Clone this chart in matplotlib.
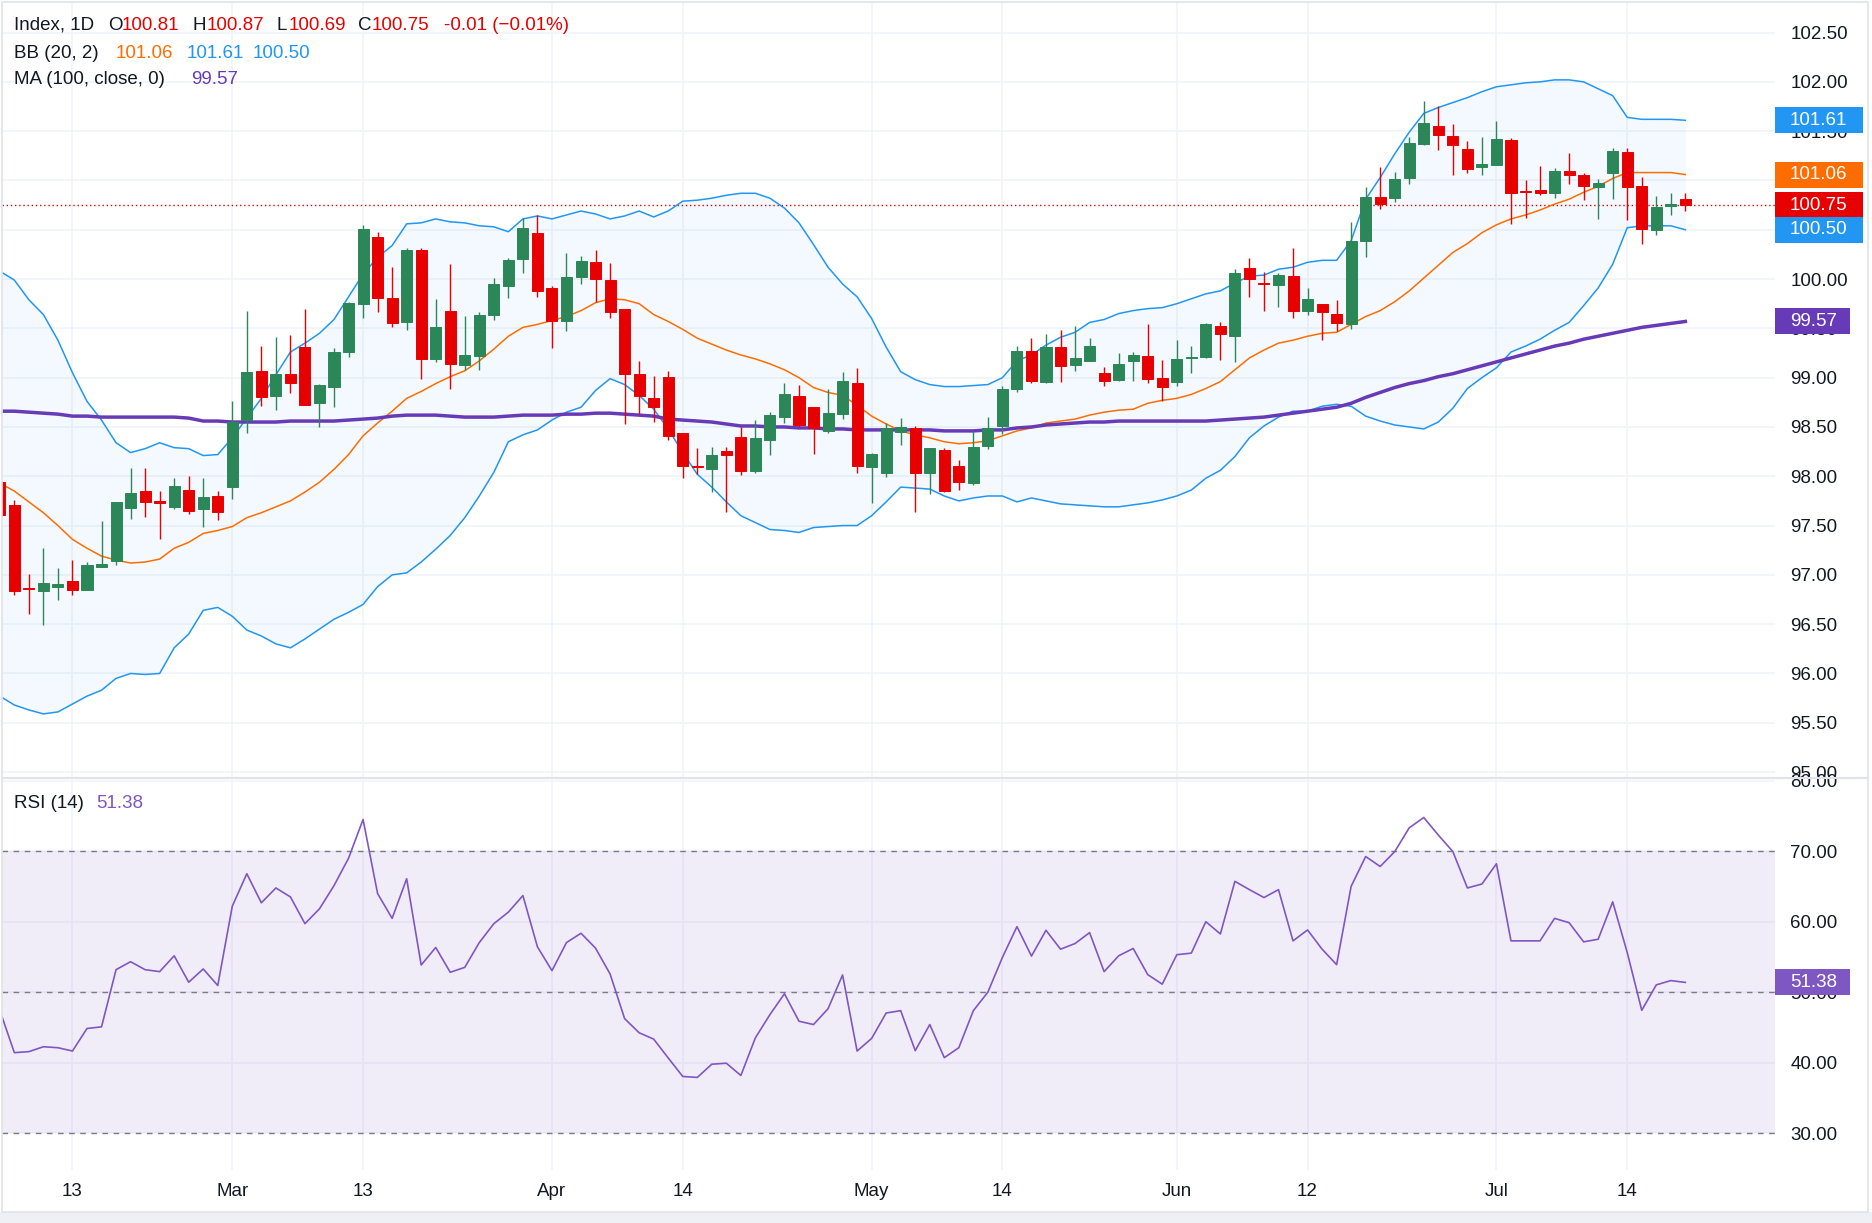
import matplotlib
matplotlib.use("Agg")
import matplotlib.pyplot as plt
from matplotlib.patches import Rectangle
from matplotlib.lines import Line2D

# daily candles, one entry per bar
opens = [97.94, 97.71, 96.87, 96.84, 96.88, 96.94, 96.85, 97.08, 97.14, 97.68,
         97.85, 97.75, 97.69, 97.86, 97.67, 97.80, 97.89, 98.57, 99.07, 98.81,
         99.04, 99.31, 98.74, 98.91, 99.26, 99.75, 100.43, 99.81, 99.56, 100.29,
         99.19, 99.68, 99.13, 99.22, 99.64, 99.93, 100.20, 100.47, 99.91, 99.57,
         100.02, 100.17, 99.99, 99.70, 99.04, 98.79, 99.01, 98.44, 98.10, 98.07,
         98.26, 98.40, 98.05, 98.37, 98.60, 98.81, 98.70, 98.46, 98.63, 98.95,
         98.09, 98.03, 98.45, 98.49, 98.03, 98.27, 98.10, 97.93, 98.31, 98.51,
         98.88, 99.27, 98.96, 99.31, 99.13, 99.17, 99.05, 98.98, 99.17, 99.22,
         99.00, 98.96, 99.20, 99.21, 99.52, 99.42, 100.11, 99.96, 99.94, 100.03,
         99.68, 99.75, 99.65, 99.54, 100.39, 100.83, 100.82, 101.02, 101.37, 101.55,
         101.45, 101.32, 101.14, 101.16, 101.41, 100.89, 100.90, 100.87, 101.10, 101.06,
         100.93, 101.08, 101.29, 100.94, 100.50, 100.74, 100.81]
highs = [97.95, 97.76, 97.01, 97.27, 97.07, 97.15, 97.13, 97.55, 97.74, 98.08,
         98.08, 97.85, 97.98, 98.00, 97.98, 97.85, 98.76, 99.68, 99.32, 99.41,
         99.43, 99.70, 98.94, 99.30, 99.77, 100.55, 100.48, 100.12, 100.32, 100.31,
         99.80, 100.15, 99.63, 99.67, 100.01, 100.21, 100.62, 100.65, 99.93, 100.26,
         100.23, 100.29, 100.16, 99.70, 99.17, 99.02, 99.07, 98.44, 98.29, 98.30,
         98.30, 98.50, 98.57, 98.65, 98.95, 98.93, 98.70, 98.88, 99.06, 99.10,
         98.24, 98.54, 98.59, 98.51, 98.29, 98.29, 98.16, 98.46, 98.60, 98.92,
         99.32, 99.40, 99.44, 99.48, 99.52, 99.40, 99.11, 99.25, 99.26, 99.54,
         99.18, 99.38, 99.32, 99.55, 99.56, 100.10, 100.21, 100.07, 100.06, 100.31,
         99.91, 99.75, 99.79, 100.58, 100.93, 101.14, 101.09, 101.44, 101.81, 101.76,
         101.57, 101.40, 101.44, 101.60, 101.43, 101.00, 101.15, 101.13, 101.28, 101.08,
         101.01, 101.33, 101.33, 101.04, 100.84, 100.87, 100.87]
lows = [97.60, 96.80, 96.60, 96.49, 96.75, 96.80, 96.85, 97.08, 97.10, 97.57,
        97.59, 97.36, 97.67, 97.62, 97.49, 97.56, 97.77, 98.44, 98.71, 98.67,
        98.84, 98.72, 98.50, 98.70, 99.21, 99.60, 99.67, 99.51, 99.48, 98.99,
        99.16, 98.88, 99.08, 99.08, 99.58, 99.81, 100.06, 99.82, 99.30, 99.47,
        99.95, 99.77, 99.61, 98.53, 98.63, 98.55, 98.37, 97.98, 98.02, 97.84,
        97.64, 98.01, 98.03, 98.22, 98.54, 98.50, 98.23, 98.44, 98.58, 98.03,
        97.73, 97.99, 98.32, 97.64, 97.82, 97.84, 97.86, 97.91, 98.28, 98.43,
        98.85, 98.95, 98.95, 98.96, 99.07, 99.17, 98.92, 98.97, 98.97, 98.95,
        98.76, 98.92, 99.05, 99.20, 99.18, 99.16, 99.82, 99.68, 99.72, 99.60,
        99.64, 99.38, 99.47, 99.49, 100.22, 100.71, 100.78, 100.96, 101.36, 101.31,
        101.06, 101.08, 101.06, 101.16, 100.56, 100.62, 100.85, 100.82, 100.96, 100.80,
        100.61, 100.81, 100.60, 100.36, 100.45, 100.65, 100.69]
closes = [97.61, 96.84, 96.86, 96.92, 96.91, 96.85, 97.10, 97.11, 97.74, 97.83,
          97.74, 97.73, 97.90, 97.65, 97.79, 97.64, 98.55, 99.06, 98.80, 99.04,
          98.95, 98.72, 98.93, 99.26, 99.76, 100.51, 99.81, 99.55, 100.29, 99.19,
          99.51, 99.14, 99.23, 99.64, 99.95, 100.19, 100.52, 99.88, 99.57, 100.02,
          100.18, 100.00, 99.67, 99.04, 98.81, 98.70, 98.41, 98.10, 98.09, 98.22,
          98.22, 98.05, 98.39, 98.62, 98.83, 98.52, 98.49, 98.64, 98.97, 98.10,
          98.23, 98.49, 98.50, 98.03, 98.29, 97.85, 97.94, 98.30, 98.49, 98.88,
          99.27, 98.97, 99.31, 99.12, 99.20, 99.32, 98.97, 99.14, 99.23, 98.99,
          98.91, 99.19, 99.21, 99.54, 99.44, 100.06, 100.00, 99.95, 100.04, 99.68,
          99.80, 99.67, 99.55, 100.39, 100.83, 100.76, 101.01, 101.38, 101.58, 101.46,
          101.36, 101.12, 101.17, 101.42, 100.87, 100.88, 100.87, 101.10, 101.06, 100.94,
          100.97, 101.30, 100.93, 100.51, 100.73, 100.76, 100.75]

# Bollinger bands (20, 2) and the 100 day moving average
bb_upper = [100.08, 99.99, 99.79, 99.64, 99.38, 99.05, 98.76, 98.57, 98.34, 98.24,
            98.28, 98.34, 98.29, 98.28, 98.21, 98.22, 98.39, 98.59, 98.79, 99.03,
            99.26, 99.35, 99.45, 99.59, 99.82, 100.05, 100.22, 100.34, 100.56, 100.57,
            100.61, 100.58, 100.57, 100.54, 100.53, 100.48, 100.61, 100.64, 100.61, 100.65,
            100.69, 100.66, 100.61, 100.64, 100.69, 100.63, 100.69, 100.79, 100.80, 100.82,
            100.85, 100.87, 100.87, 100.82, 100.72, 100.57, 100.35, 100.12, 99.95, 99.82,
            99.60, 99.31, 99.06, 98.98, 98.93, 98.91, 98.91, 98.92, 98.93, 99.00,
            99.17, 99.23, 99.33, 99.41, 99.46, 99.56, 99.59, 99.65, 99.68, 99.70,
            99.71, 99.75, 99.80, 99.85, 99.88, 99.96, 100.03, 100.04, 100.10, 100.12,
            100.17, 100.19, 100.19, 100.39, 100.81, 101.03, 101.27, 101.49, 101.68, 101.74,
            101.79, 101.84, 101.90, 101.95, 101.97, 101.99, 102.00, 102.02, 102.02, 102.00,
            101.93, 101.86, 101.64, 101.62, 101.62, 101.62, 101.61]
bb_basis = [97.93, 97.85, 97.74, 97.63, 97.50, 97.36, 97.27, 97.19, 97.15, 97.12,
            97.13, 97.16, 97.27, 97.33, 97.42, 97.45, 97.49, 97.58, 97.63, 97.69,
            97.75, 97.84, 97.94, 98.07, 98.22, 98.41, 98.54, 98.66, 98.79, 98.86,
            98.94, 99.01, 99.07, 99.17, 99.29, 99.42, 99.51, 99.54, 99.58, 99.62,
            99.68, 99.76, 99.80, 99.79, 99.75, 99.64, 99.57, 99.49, 99.40, 99.34,
            99.28, 99.23, 99.19, 99.14, 99.08, 99.00, 98.90, 98.85, 98.82, 98.72,
            98.61, 98.53, 98.46, 98.42, 98.39, 98.35, 98.33, 98.34, 98.36, 98.41,
            98.46, 98.49, 98.54, 98.56, 98.58, 98.62, 98.65, 98.67, 98.68, 98.74,
            98.77, 98.79, 98.83, 98.89, 98.96, 99.08, 99.20, 99.28, 99.35, 99.38,
            99.42, 99.45, 99.46, 99.54, 99.62, 99.68, 99.77, 99.88, 100.01, 100.14,
            100.27, 100.36, 100.47, 100.55, 100.61, 100.65, 100.70, 100.76, 100.81, 100.88,
            100.94, 101.02, 101.08, 101.08, 101.08, 101.08, 101.06]
bb_lower = [95.77, 95.68, 95.63, 95.59, 95.61, 95.69, 95.77, 95.83, 95.95, 96.00,
            95.99, 96.00, 96.26, 96.40, 96.64, 96.67, 96.58, 96.44, 96.38, 96.30,
            96.26, 96.35, 96.45, 96.55, 96.62, 96.70, 96.88, 97.00, 97.02, 97.13,
            97.26, 97.40, 97.58, 97.80, 98.04, 98.35, 98.42, 98.47, 98.57, 98.65,
            98.70, 98.87, 98.99, 98.93, 98.82, 98.68, 98.48, 98.24, 98.02, 97.89,
            97.74, 97.60, 97.53, 97.46, 97.45, 97.43, 97.48, 97.49, 97.50, 97.50,
            97.60, 97.74, 97.89, 97.88, 97.87, 97.80, 97.75, 97.78, 97.80, 97.80,
            97.74, 97.78, 97.75, 97.72, 97.71, 97.70, 97.69, 97.69, 97.71, 97.73,
            97.76, 97.80, 97.86, 97.98, 98.06, 98.20, 98.39, 98.51, 98.60, 98.66,
            98.66, 98.71, 98.73, 98.71, 98.61, 98.56, 98.52, 98.50, 98.48, 98.55,
            98.69, 98.89, 99.00, 99.10, 99.26, 99.32, 99.39, 99.48, 99.56, 99.73,
            99.91, 100.15, 100.52, 100.54, 100.54, 100.54, 100.50]
ma_100 = [98.66, 98.66, 98.65, 98.64, 98.63, 98.61, 98.61, 98.60, 98.60, 98.60,
          98.60, 98.60, 98.60, 98.59, 98.56, 98.56, 98.55, 98.55, 98.55, 98.55,
          98.56, 98.56, 98.56, 98.56, 98.57, 98.58, 98.59, 98.61, 98.62, 98.62,
          98.62, 98.61, 98.60, 98.60, 98.60, 98.61, 98.62, 98.62, 98.62, 98.63,
          98.63, 98.64, 98.64, 98.63, 98.62, 98.61, 98.58, 98.57, 98.56, 98.55,
          98.53, 98.51, 98.51, 98.50, 98.50, 98.49, 98.49, 98.48, 98.48, 98.47,
          98.47, 98.47, 98.47, 98.47, 98.47, 98.46, 98.46, 98.46, 98.47, 98.47,
          98.49, 98.50, 98.52, 98.53, 98.54, 98.55, 98.55, 98.56, 98.56, 98.56,
          98.56, 98.56, 98.56, 98.56, 98.57, 98.58, 98.59, 98.60, 98.62, 98.64,
          98.66, 98.68, 98.70, 98.74, 98.80, 98.85, 98.90, 98.94, 98.97, 99.01,
          99.04, 99.08, 99.12, 99.16, 99.20, 99.24, 99.28, 99.32, 99.35, 99.39,
          99.42, 99.45, 99.48, 99.51, 99.53, 99.55, 99.57]

rsi_14 = [47.42, 41.41, 41.55, 42.25, 42.11, 41.64, 44.84, 45.07, 53.19, 54.32,
          53.19, 52.91, 55.16, 51.41, 53.29, 50.94, 62.21, 66.81, 62.68, 64.79,
          63.52, 59.72, 61.83, 65.12, 69.01, 74.51, 63.99, 60.47, 66.10, 53.85,
          56.34, 52.82, 53.52, 57.04, 59.72, 61.36, 63.71, 56.43, 53.05, 57.04,
          58.36, 56.24, 52.58, 46.24, 44.23, 43.33, 40.66, 38.03, 37.89, 39.77,
          39.91, 38.17, 43.52, 46.81, 49.77, 45.87, 45.40, 47.65, 52.44, 41.64,
          43.43, 47.04, 47.37, 41.69, 45.40, 40.70, 42.11, 47.37, 50.00, 54.93,
          59.30, 55.12, 58.78, 56.10, 56.90, 58.45, 52.91, 55.16, 56.20, 52.49,
          51.13, 55.31, 55.54, 60.00, 58.26, 65.73, 64.55, 63.43, 64.55, 57.28,
          58.83, 56.10, 53.90, 65.02, 69.25, 67.84, 69.95, 73.33, 74.79, 72.30,
          69.95, 64.79, 65.35, 68.22, 57.28, 57.28, 57.28, 60.47, 59.86, 57.14,
          57.51, 62.82, 55.63, 47.42, 51.03, 51.64, 51.38]

# time axis: bar index of each labelled day
tick_bars = [5, 16, 25, 38, 47, 60, 69, 81, 90, 103, 112]
tick_labels = ["13", "Mar", "13", "Apr", "14", "May", "14", "Jun", "12", "Jul", "14"]
price_ticks = [95.0, 95.5, 96.0, 96.5, 97.0, 97.5, 98.0, 98.5, 99.0, 99.5,
               100.0, 100.5, 101.0, 101.5, 102.0, 102.5]
rsi_ticks = [30, 40, 50, 60, 70, 80]

W, H = 1872, 1223
TEXT = "#131722"
UP = "#2b8757"
DOWN = "#e60000"
BLUE = "#2196f3"
ORANGE = "#ff6d00"
MA_PURPLE = "#673ab7"
RSI_PURPLE = "#7e57c2"
GRID = "#f0f3fa"
FONT = ["Liberation Sans", "DejaVu Sans"]
FS = 13.5

plt.rcParams["font.family"] = FONT


def px_rect(x0, y0, x1, y1):
    # pixel box (top-left origin) -> figure fraction rect
    return [x0 / W, 1 - y1 / H, (x1 - x0) / W, (y1 - y0) / H]


def style_axis(ax, ylim, ticks):
    ax.set_xlim(0.151, 122.17)
    ax.set_ylim(*ylim)
    for side in ax.spines.values():
        side.set_visible(False)
    ax.yaxis.tick_right()
    ax.set_yticks(ticks)
    ax.set_yticklabels(["{:.2f}".format(t) for t in ticks])
    ax.tick_params(axis="y", length=0, pad=11, labelsize=FS, labelcolor=TEXT)
    ax.set_xticks(tick_bars)
    ax.grid(True, color=GRID, linewidth=1.2, zorder=0)
    ax.set_axisbelow(True)


def draw_candles(ax):
    x = list(range(len(closes)))
    colors = [UP if c >= o else DOWN for o, c in zip(opens, closes)]
    ax.vlines(x, lows, highs, colors=colors, linewidth=1.0, zorder=5)
    bottoms = [min(o, c) for o, c in zip(opens, closes)]
    heights = [abs(c - o) for o, c in zip(opens, closes)]
    ax.bar(x, heights, bottom=bottoms, width=0.76, color=colors,
           edgecolor=colors, linewidth=0.7, zorder=6)


def draw_price_panel(ax):
    x = list(range(len(closes)))
    ax.fill_between(x, bb_lower, bb_upper, color=BLUE, alpha=0.05, linewidth=0, zorder=1)
    ax.plot(x, bb_upper, color=BLUE, linewidth=1.1, zorder=3)
    ax.plot(x, bb_lower, color=BLUE, linewidth=1.1, zorder=3)
    ax.plot(x, bb_basis, color=ORANGE, linewidth=1.1, zorder=3)
    ax.plot(x, ma_100, color=MA_PURPLE, linewidth=2.5, zorder=4)
    draw_candles(ax)
    last_color = UP if closes[-1] >= opens[-1] else DOWN
    ax.axhline(closes[-1], color=last_color, linewidth=1.0, linestyle=(0, (1, 2)), zorder=2)
    style_axis(ax, (94.95, 102.82), price_ticks)
    ax.tick_params(axis="x", length=0, labelbottom=False)


def draw_rsi_panel(ax):
    x = list(range(len(rsi_14)))
    ax.axhspan(30, 70, color=RSI_PURPLE, alpha=0.1, linewidth=0, zorder=1)
    for level in (70, 50, 30):
        ax.axhline(level, color="#787b86", linewidth=1.0, linestyle=(0, (4, 4)), zorder=2)
    ax.plot(x, rsi_14, color=RSI_PURPLE, linewidth=1.2, zorder=3)
    style_axis(ax, (24.75, 80.4), rsi_ticks)
    ax.set_xticklabels(tick_labels)
    ax.tick_params(axis="x", length=0, pad=9, labelsize=FS, labelcolor=TEXT)


def value_tag(fig, ax, value, text, color):
    # coloured price tag sitting on the right axis
    y = H - ax.transData.transform((0, value))[1]
    width = 88 if len(text) > 5 else 75
    fig.add_artist(Rectangle(((1775) / W, 1 - (y + 13) / H), width / W, 26 / H,
                             transform=fig.transFigure, facecolor=color,
                             edgecolor="none", zorder=10))
    fig.text(1790 / W, 1 - y / H, text, color="white", fontsize=FS,
             va="center", ha="left", zorder=11)


def legend_row(fig, y, parts):
    for x, text, color in parts:
        fig.text(x / W, 1 - y / H, text, color=color, fontsize=FS,
                 va="center", ha="left")


def main():
    fig = plt.figure(figsize=(W / 100, H / 100), dpi=100)
    fig.patch.set_facecolor("white")

    ax_price = fig.add_axes(px_rect(2, 1, 1775, 777))
    ax_rsi = fig.add_axes(px_rect(2, 778, 1775, 1170))
    draw_price_panel(ax_price)
    draw_rsi_panel(ax_rsi)

    # frame, pane separator and bottom strip
    fig.add_artist(Rectangle((0, 0), 1, 11 / H, transform=fig.transFigure,
                             facecolor="#eef0f5", edgecolor="none", zorder=0))
    fig.add_artist(Rectangle((2 / W, 11 / H), 1866 / W, 1210 / H, transform=fig.transFigure,
                             facecolor="none", edgecolor="#e0e3eb", linewidth=1.2, zorder=12))
    fig.add_artist(Line2D([2 / W, 1868 / W], [1 - 777.5 / H, 1 - 777.5 / H],
                          transform=fig.transFigure, color="#e0e3eb", linewidth=1.5, zorder=12))

    fig.canvas.draw()
    value_tag(fig, ax_price, bb_upper[-1], "{:.2f}".format(bb_upper[-1]), BLUE)
    value_tag(fig, ax_price, bb_basis[-1], "{:.2f}".format(bb_basis[-1]), ORANGE)
    value_tag(fig, ax_price, closes[-1], "{:.2f}".format(closes[-1]), DOWN)
    value_tag(fig, ax_price, bb_lower[-1], "{:.2f}".format(bb_lower[-1]), BLUE)
    value_tag(fig, ax_price, ma_100[-1], "{:.2f}".format(ma_100[-1]), MA_PURPLE)
    value_tag(fig, ax_rsi, rsi_14[-1], "{:.2f}".format(rsi_14[-1]), RSI_PURPLE)

    change = closes[-1] - closes[-2]
    pct = change / closes[-2] * 100
    legend_row(fig, 25, [
        (14, "Index, 1D", TEXT),
        (108, "O", TEXT), (122, "{:.2f}".format(opens[-1]), DOWN),
        (193, "H", TEXT), (207, "{:.2f}".format(highs[-1]), DOWN),
        (277, "L", TEXT), (289, "{:.2f}".format(lows[-1]), DOWN),
        (358, "C", TEXT), (372, "{:.2f}".format(closes[-1]), DOWN),
        (444, "{:.2f} ({}{:.2f}%)".format(change, "\u2212", abs(pct)), DOWN),
    ])
    legend_row(fig, 53, [
        (14, "BB (20, 2)", TEXT),
        (116, "{:.2f}".format(bb_basis[-1]), ORANGE),
        (187, "{:.2f}".format(bb_upper[-1]), BLUE),
        (253, "{:.2f}".format(bb_lower[-1]), BLUE),
    ])
    legend_row(fig, 80, [
        (14, "MA (100, close, 0)", TEXT),
        (191, "{:.2f}".format(ma_100[-1]), MA_PURPLE),
    ])
    legend_row(fig, 804, [
        (14, "RSI (14)", TEXT),
        (96, "{:.2f}".format(rsi_14[-1]), RSI_PURPLE),
    ])

    fig.savefig("out.png", dpi=100, facecolor="white")


if __name__ == '__main__':
    main()
